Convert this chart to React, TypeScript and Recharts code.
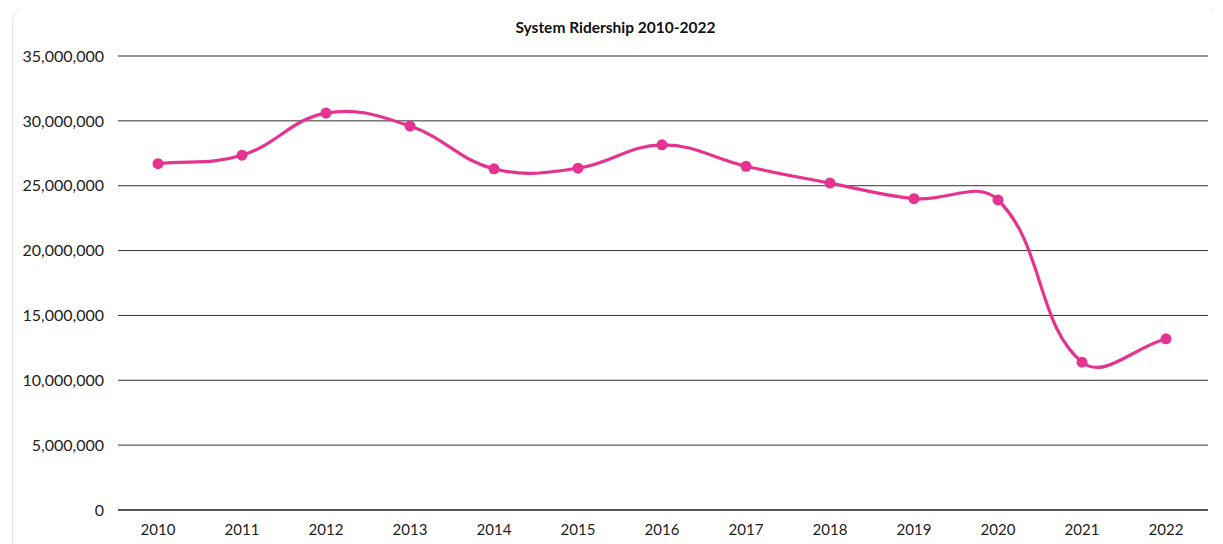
import React from "react";
import { LineChart, Line, XAxis, YAxis, CartesianGrid } from "recharts";

const years = ["2010","2011","2012","2013","2014","2015","2016","2017","2018","2019","2020","2021","2022"];
const riders = [26700000, 27350000, 30600000, 29600000, 26300000, 26350000, 28150000, 26500000, 25200000, 24000000, 23900000, 11400000, 13200000];
const yTicks = [0, 5000000, 10000000, 15000000, 20000000, 25000000, 30000000, 35000000];
const title = "System Ridership 2010-2022";

const data = years.map((y, i) => ({ year: y, riders: riders[i] }));

// Chart.js-style tension spline as a d3 curve factory
function tensionCurve(tension: number) {
  return function (context: any) {
    let pts: { x: number; y: number }[] = [];
    return {
      areaStart() {},
      areaEnd() {},
      lineStart() { pts = []; },
      point(x: number, y: number) { pts.push({ x: +x, y: +y }); },
      lineEnd() {
        const n = pts.length;
        if (!n) return;
        context.moveTo(pts[0].x, pts[0].y);
        if (n === 1) return;
        const cps = pts.map((cur, i) => {
          const prev = pts[Math.max(0, i - 1)];
          const next = pts[Math.min(n - 1, i + 1)];
          const d01 = Math.hypot(cur.x - prev.x, cur.y - prev.y);
          const d12 = Math.hypot(next.x - cur.x, next.y - cur.y);
          let s01 = d01 / (d01 + d12);
          let s12 = d12 / (d01 + d12);
          if (!isFinite(s01)) s01 = 0;
          if (!isFinite(s12)) s12 = 0;
          const fa = tension * s01;
          const fb = tension * s12;
          return {
            px: cur.x - fa * (next.x - prev.x),
            py: cur.y - fa * (next.y - prev.y),
            nx: cur.x + fb * (next.x - prev.x),
            ny: cur.y + fb * (next.y - prev.y),
          };
        });
        for (let i = 1; i < n; i++) {
          context.bezierCurveTo(cps[i - 1].nx, cps[i - 1].ny, cps[i].px, cps[i].py, pts[i].x, pts[i].y);
        }
      },
    };
  };
}

const curve = tensionCurve(0.4);
const fmt = (v: number) => v.toLocaleString("en-US");
const PINK = "#e5338f";
const FONT = "Lato, 'Open Sans', sans-serif";

export default function App() {
  return (
    <div
      style={{
        position: "relative",
        marginLeft: 4,
        marginTop: -1,
        width: 1205,
        height: 560,
        border: "1px solid #e6e6e6",
        borderRadius: 12,
        background: "#fff",
        fontFamily: FONT,
      }}
    >
      <div
        style={{
          position: "absolute",
          top: 10,
          left: 0,
          width: 1205,
          textAlign: "center",
          fontSize: 15.5,
          fontWeight: 700,
          color: "#111",
        }}
      >
        {title}
      </div>
      <LineChart
        width={1205}
        height={560}
        data={data}
        margin={{ top: 48, right: 10, bottom: 28, left: 0 }}
        style={{ fontFamily: FONT }}
      >
        <CartesianGrid vertical={false} stroke="#333" strokeWidth={1} />
        <XAxis
          dataKey="year"
          padding={{ left: 40, right: 42 }}
          tickLine={false}
          axisLine={{ stroke: "#111" }}
          tickMargin={8}
          tick={{ fill: "#222", fontSize: 15 }}
          interval={0}
          height={30}
        />
        <YAxis
          width={105}
          domain={[0, 35000000]}
          ticks={yTicks}
          tickFormatter={fmt}
          tickLine={false}
          axisLine={false}
          tickMargin={8}
          tick={{ fill: "#222", fontSize: 16 }}
        />
        <Line
          dataKey="riders"
          type={curve as any}
          stroke={PINK}
          strokeWidth={3.2}
          dot={{ r: 5.5, fill: PINK, stroke: PINK, strokeWidth: 0 }}
          activeDot={false}
          isAnimationActive={false}
        />
      </LineChart>
    </div>
  );
}
